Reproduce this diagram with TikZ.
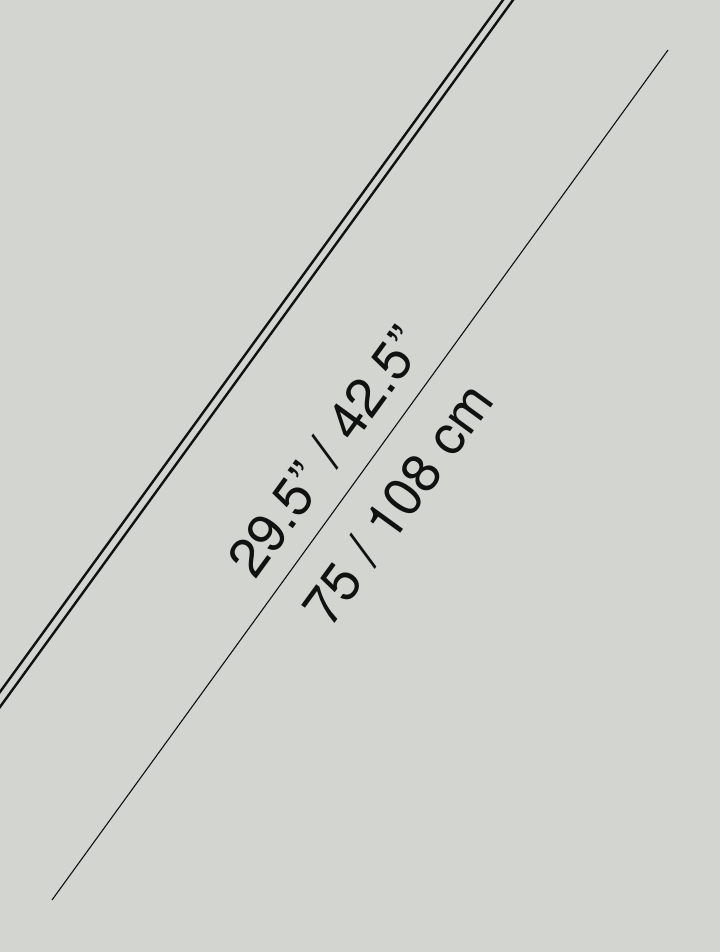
\documentclass[tikz,border=0pt]{standalone}
\usepackage{fontspec}
\setmainfont{TeX Gyre Heros}
\definecolor{bg}{HTML}{D3D5D1}
\definecolor{ink}{HTML}{111111}
\begin{document}
\begin{tikzpicture}[x=1pt,y=-1pt,
  thick line/.style={draw=ink,line width=2.4pt},
  thin line/.style={draw=ink,line width=1.1pt},
  dimtext/.style={font=\fontsize{54}{64}\selectfont,text=ink,rotate=54,inner sep=0pt,anchor=base}]
\fill[bg] (0,0) rectangle (720,952);
\useasboundingbox (0,0) rectangle (720,952);
\begin{scope}
\clip (0,0) rectangle (720,952);
\coordinate (a1) at (514.8,-16.2);
\coordinate (a2) at (-11.8,708.2);
\coordinate (b1) at (524.8,-16.2);
\coordinate (b2) at (-11.8,723.2);
\draw[thick line] (a1) -- (a2);
\draw[thick line] (b1) -- (b2);
\end{scope}
\coordinate (t1) at (668,50);
\coordinate (t2) at (52,900);
\draw[thin line] (t1) -- (t2);
\node[dimtext] (inch) at (341.0,463.0) {29.5” / 42.5”};
\node[dimtext] (cm) at (413.2,515.5) {75 / 108 cm};
\end{tikzpicture}
\end{document}
